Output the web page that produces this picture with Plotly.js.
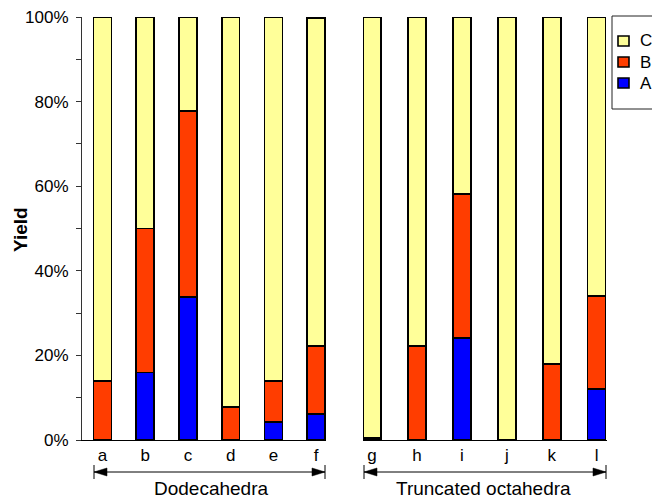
<!DOCTYPE html>
<html>
<head>
<meta charset="utf-8">
<script src="https://cdn.plot.ly/plotly-3.0.1.min.js"></script>
<style>html,body{margin:0;padding:0;background:#fff;}#chart{width:652px;height:498px;}</style>
</head>
<body>
<div id="chart"></div>
<script>
// ---- data ----
const catsDodeca = ['a', 'b', 'c', 'd', 'e', 'f'];
const A_dodeca = [0, 16, 33.8, 0, 4.3, 6.1];
const B_dodeca = [13.9, 34, 44, 7.8, 9.7, 16.1];
const C_dodeca = [86.1, 50, 22.2, 92.2, 86, 77.5];

const catsTrunc = ['g', 'h', 'i', 'j', 'k', 'l'];
const A_trunc = [0, 0, 24.1, 0, 0, 12.1];
const B_trunc = [0.5, 22.2, 34.1, 0, 18, 21.9];
const C_trunc = [99.5, 77.8, 41.8, 100, 82, 66];

const groupNames = ['Dodecahedra', 'Truncated octahedra'];
const seriesNames = ['A', 'B', 'C'];
const yTicks = [0, 20, 40, 60, 80, 100];
const yTitle = 'Yield';

// ---- styling ----
const colors = {A: '#0000ff', B: '#ff3d00', C: '#ffff99'};
const FONT = '"Liberation Sans", Arial, Helvetica, sans-serif';
const W = 652, H = 498;
const ML = 82, MR = 45, MT = 17, MB = 58;
const PW = W - ML - MR, PH = H - MT - MB;
const X = px => (px - ML) / PW;
const Y = py => (H - MB - py) / PH;

function mk(name, cats, vals, xa, ya, width) {
  return {
    type: 'bar', name: name, x: cats, y: vals, xaxis: xa, yaxis: ya,
    width: width, showlegend: false,
    marker: {color: colors[name], line: {color: '#000', width: 1.6}},
    hoverinfo: 'x+y+name'
  };
}
const data = [];
[[A_dodeca, 'A'], [B_dodeca, 'B'], [C_dodeca, 'C']].forEach(([v, n]) => data.push(mk(n, catsDodeca, v, 'x', 'y', 0.42)));
[[A_trunc, 'A'], [B_trunc, 'B'], [C_trunc, 'C']].forEach(([v, n]) => data.push(mk(n, catsTrunc, v, 'x2', 'y2', 0.40)));

// bracket shapes
function bracket(x0, x1, yc) {
  const s = [];
  const line = {color: '#000', width: 1};
  s.push({type: 'line', xref: 'paper', yref: 'paper', x0: X(x0), x1: X(x1), y0: Y(yc), y1: Y(yc), line: line});
  s.push({type: 'line', xref: 'paper', yref: 'paper', x0: X(x0), x1: X(x0), y0: Y(yc - 7), y1: Y(yc + 7), line: line});
  s.push({type: 'line', xref: 'paper', yref: 'paper', x0: X(x1), x1: X(x1), y0: Y(yc - 7), y1: Y(yc + 7), line: line});
  s.push({type: 'path', xref: 'paper', yref: 'paper', fillcolor: '#000', line: {color: '#000', width: 0.5},
    path: `M ${X(x0)} ${Y(yc)} L ${X(x0 + 13)} ${Y(yc - 4)} L ${X(x0 + 13)} ${Y(yc + 4)} Z`});
  s.push({type: 'path', xref: 'paper', yref: 'paper', fillcolor: '#000', line: {color: '#000', width: 0.5},
    path: `M ${X(x1)} ${Y(yc)} L ${X(x1 - 13)} ${Y(yc - 4)} L ${X(x1 - 13)} ${Y(yc + 4)} Z`});
  return s;
}
const shapes = [].concat(bracket(94, 325, 472), bracket(364, 606, 472));

// manual legend (box clipped by page edge as in the reference)
shapes.push({type: 'rect', xref: 'paper', yref: 'paper', x0: X(612), x1: X(700), y0: Y(16), y1: Y(109),
  fillcolor: '#fff', line: {color: '#222', width: 1}});
const legendAnn = [];
['C', 'B', 'A'].forEach((n, i) => {
  const cy = 41 + i * 21;
  shapes.push({type: 'rect', xref: 'paper', yref: 'paper', x0: X(618), x1: X(629), y0: Y(cy - 5), y1: Y(cy + 5),
    fillcolor: colors[n], line: {color: '#000', width: 1.6}});
  legendAnn.push({text: n, xref: 'paper', yref: 'paper', x: X(638), y: Y(cy), showarrow: false,
    xanchor: 'left', yanchor: 'middle', font: {family: FONT, size: 17, color: '#000'}});
});

const tickFont = {family: FONT, size: 17, color: '#000'};
const layout = {
  width: W, height: H,
  margin: {l: ML, r: MR, t: MT, b: MB, autoexpand: false},
  paper_bgcolor: '#fff', plot_bgcolor: '#fff',
  barmode: 'stack',
  showlegend: false,
  font: {family: FONT, size: 17, color: '#000'},
  xaxis: {domain: [0, X(326)], range: [-0.48, 5.23], showline: true, linecolor: '#000', linewidth: 1,
    ticks: '', showgrid: false, zeroline: false, tickfont: tickFont, fixedrange: true},
  xaxis2: {domain: [X(363), 1], range: [-0.2, 5.23], anchor: 'y2', showline: true, linecolor: '#000', linewidth: 1,
    ticks: '', showgrid: false, zeroline: false, tickfont: tickFont, fixedrange: true},
  yaxis: {range: [0, 100], tickvals: yTicks, ticktext: yTicks.map(v => v + '%'), ticks: 'outside', ticklen: 5,
    tickcolor: '#333', showline: true, linecolor: '#333', linewidth: 1, showgrid: false, zeroline: false,
    tickfont: tickFont, ticklabelstandoff: 4,
    minor: {dtick: 10, tick0: 0, ticks: 'outside', ticklen: 5, tickcolor: '#333'}},
  yaxis2: {range: [0, 100], anchor: 'x2', showline: false, showticklabels: false, ticks: '', showgrid: false, zeroline: false},
  shapes: shapes,
  annotations: [
    {text: '<b>' + yTitle + '</b>', xref: 'paper', yref: 'paper', x: X(21), y: Y(230), textangle: -90, showarrow: false,
      font: {family: FONT, size: 19, color: '#000'}, xanchor: 'center', yanchor: 'middle'},
    {text: groupNames[0], xref: 'paper', yref: 'paper', x: X(211), y: Y(488), showarrow: false,
      font: {family: FONT, size: 19, color: '#000'}, xanchor: 'center', yanchor: 'middle'},
    {text: groupNames[1], xref: 'paper', yref: 'paper', x: X(483), y: Y(488), showarrow: false,
      font: {family: FONT, size: 19, color: '#000'}, xanchor: 'center', yanchor: 'middle'}
  ].concat(legendAnn)
};
Plotly.newPlot('chart', data, layout, {displayModeBar: false, staticPlot: true});
</script>
</body>
</html>
